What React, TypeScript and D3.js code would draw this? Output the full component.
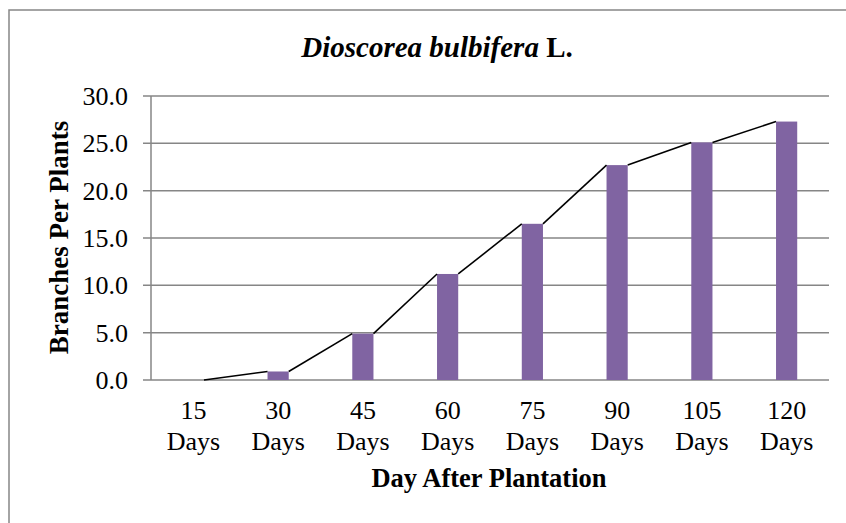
import * as d3 from "d3";
import { useEffect, useRef } from "react";

const categories = ["15", "30", "45", "60", "75", "90", "105", "120"];
const branches = [0, 0.9, 4.9, 11.2, 16.5, 22.7, 25.1, 27.3];
const yTicks = [0, 5, 10, 15, 20, 25, 30];

const width = 846;
const height = 523;
const margin = { top: 96, right: 17, bottom: 143, left: 151 };
const font = "'Liberation Serif', 'Times New Roman', serif";
const gridColor = "#868686";
const barColor = "#8064A2";

export default function App() {
  const svgRef = useRef<SVGSVGElement>(null);

  useEffect(() => {
    if (!svgRef.current) return;
    const svg = d3.select(svgRef.current);
    svg.selectAll("*").remove();

    const x = d3.scaleBand()
      .domain(categories)
      .range([margin.left, width - margin.right])
      .paddingInner(0.75)
      .paddingOuter(0.375);

    const y = d3.scaleLinear()
      .domain([0, 30])
      .range([height - margin.bottom, margin.top]);

    // outer chart border (runs off the right/bottom of the picture)
    svg.append("rect")
      .attr("x", 9)
      .attr("y", 10)
      .attr("width", 900)
      .attr("height", 600)
      .attr("fill", "none")
      .attr("stroke", gridColor)
      .attr("stroke-width", 1.5);

    // gridlines with left ticks
    svg.append("g")
      .selectAll("line")
      .data(yTicks)
      .join("line")
      .attr("x1", margin.left - 8)
      .attr("x2", width - margin.right)
      .attr("y1", (d) => y(d))
      .attr("y2", (d) => y(d))
      .attr("stroke", gridColor)
      .attr("stroke-width", 1.5);

    // y axis line
    svg.append("line")
      .attr("x1", margin.left)
      .attr("x2", margin.left)
      .attr("y1", y(30))
      .attr("y2", y(0))
      .attr("stroke", gridColor)
      .attr("stroke-width", 1.5);

    svg.append("g")
      .selectAll("text")
      .data(yTicks)
      .join("text")
      .attr("x", 128)
      .attr("y", (d) => y(d))
      .attr("dy", "0.35em")
      .attr("text-anchor", "end")
      .attr("font-family", font)
      .attr("font-size", 26)
      .text((d) => d.toFixed(1));

    svg.append("g")
      .selectAll("rect")
      .data(branches)
      .join("rect")
      .attr("x", (_, i) => x(categories[i])!)
      .attr("y", (d) => y(d))
      .attr("width", x.bandwidth())
      .attr("height", (d) => y(0) - y(d))
      .attr("fill", barColor);

    // series lines: right top of one bar to left top of the next
    const segs = d3.pairs(branches.map((v, i) => ({ v, c: categories[i] })));
    svg.append("g")
      .selectAll("line")
      .data(segs)
      .join("line")
      .attr("x1", ([a]) => x(a.c)! + x.bandwidth())
      .attr("y1", ([a]) => y(a.v))
      .attr("x2", ([, b]) => x(b.c)!)
      .attr("y2", ([, b]) => y(b.v))
      .attr("stroke", "#000")
      .attr("stroke-width", 1.6);

    const xLabels = svg.append("g")
      .selectAll("text")
      .data(categories)
      .join("text")
      .attr("text-anchor", "middle")
      .attr("font-family", font)
      .attr("font-size", 26);
    xLabels.append("tspan")
      .attr("x", (d) => x(d)! + x.bandwidth() / 2)
      .attr("y", 419)
      .text((d) => d);
    xLabels.append("tspan")
      .attr("x", (d) => x(d)! + x.bandwidth() / 2)
      .attr("y", 450)
      .text("Days");

    svg.append("text")
      .attr("x", 489)
      .attr("y", 487)
      .attr("text-anchor", "middle")
      .attr("font-family", font)
      .attr("font-size", 26.5)
      .attr("font-weight", "bold")
      .text("Day After Plantation");

    svg.append("text")
      .attr("transform", "translate(68, 237.5) rotate(-90)")
      .attr("text-anchor", "middle")
      .attr("font-family", font)
      .attr("font-size", 27)
      .attr("font-weight", "bold")
      .text("Branches Per Plants");

    const title = svg.append("text")
      .attr("x", 437)
      .attr("y", 57)
      .attr("text-anchor", "middle")
      .attr("font-family", font)
      .attr("font-size", 29)
      .attr("font-weight", "bold");
    title.append("tspan").attr("font-style", "italic").text("Dioscorea bulbifera");
    title.append("tspan").text(" L.");
  }, []);

  return (
    <svg
      ref={svgRef}
      width={width}
      height={height}
      style={{ position: "absolute", left: 0, top: 0, background: "#fff" }}
    ></svg>
  );
}
